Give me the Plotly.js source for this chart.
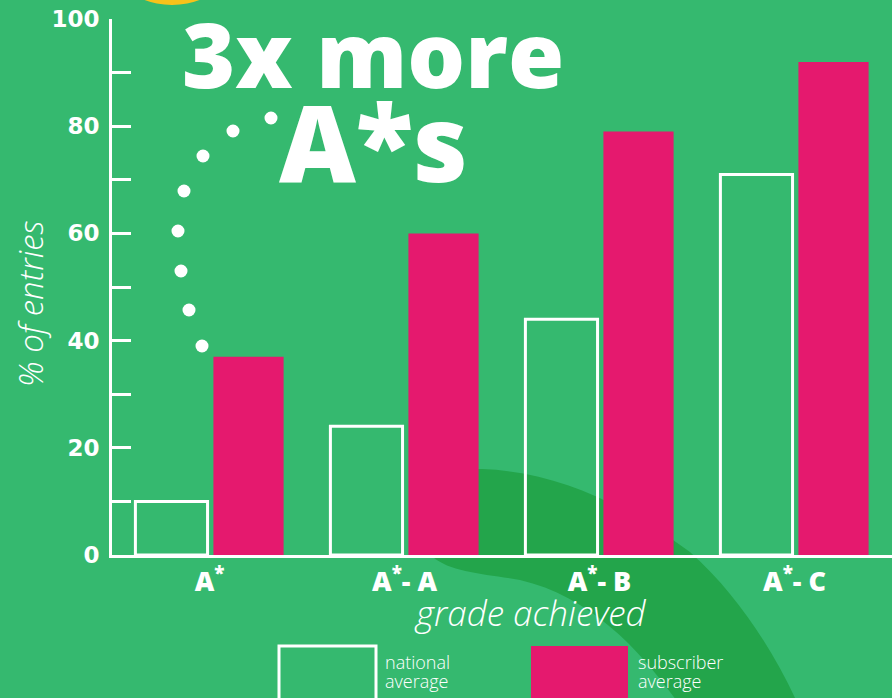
<!DOCTYPE html>
<html>
<head>
<meta charset="utf-8">
<script src="https://cdn.plot.ly/plotly-3.0.1.min.js"></script>
<style>html,body{margin:0;padding:0;background:#35b96f;}#chart{width:892px;height:698px;}</style>
</head>
<body>
<div id="chart"></div>
<script>
// ---- data ----
const categories = ["A<sup>*</sup>", "A<sup>*</sup>- A", "A<sup>*</sup>- B", "A<sup>*</sup>- C"];
const nationalAverage = [10, 24, 44, 71];
const subscriberAverage = [37, 60, 79, 92];
const yTickValues = [0, 20, 40, 60, 80, 100];
const seriesNames = ["national average", "subscriber average"];

// ---- helpers for decoration (pixel -> paper) ----
const L = 112, T = 19, W = 780, H = 536;
const PX = x => (x - L) / W;
const PY = y => (T + H - y) / H;
function pathFromPx(cmds) {
  return cmds.map(c => {
    if (c[0] === 'Z') return 'Z';
    let s = c[0];
    for (let i = 1; i < c.length; i += 2) s += ' ' + PX(c[i]).toFixed(4) + ',' + PY(c[i + 1]).toFixed(4);
    return s;
  }).join(' ');
}

const GREEN = '#35b96f', DARK = '#23a54b', PINK = '#e5196e', YEL = '#f7c21a';
const FONT = 'Open Sans, Lato, sans-serif';

const shapes = [];
// dark green band
shapes.push({
  type: 'path', xref: 'paper', yref: 'paper', layer: 'below', line: {width: 0}, fillcolor: DARK,
  path: pathFromPx([
    ['M', 412, 500], ['C', 420, 475, 450, 468, 482, 469],
    ['C', 560, 472, 625, 505, 690, 552],
    ['C', 735, 592, 772, 648, 796, 700],
    ['L', 676, 700],
    ['C', 640, 650, 590, 596, 520, 580],
    ['C', 485, 574, 450, 572, 433, 557],
    ['C', 420, 545, 412, 530, 412, 500], ['Z']
  ])
});
// yellow circle at top
shapes.push({type: 'circle', xref: 'paper', yref: 'paper', layer: 'below', line: {width: 0}, fillcolor: YEL,
  x0: PX(172 - 78), x1: PX(172 + 78), y0: PY(-73 + 78), y1: PY(-73 - 78)});
// dotted arrow
const dots = [[271,118],[233,131],[203,156],[184,191],[178,231],[181,271],[189,310],[202,346]];
dots.forEach(d => shapes.push({type: 'circle', xref: 'paper', yref: 'paper', line: {width: 0}, fillcolor: 'white',
  x0: PX(d[0] - 6.5), x1: PX(d[0] + 6.5), y0: PY(d[1] + 6.5), y1: PY(d[1] - 6.5)}));
// legend boxes
shapes.push({type: 'rect', xref: 'paper', yref: 'paper', line: {width: 3, color: 'white'}, fillcolor: GREEN,
  x0: PX(279), x1: PX(376), y0: PY(710), y1: PY(646)});
shapes.push({type: 'rect', xref: 'paper', yref: 'paper', line: {width: 0}, fillcolor: PINK,
  x0: PX(531), x1: PX(628), y0: PY(710), y1: PY(646)});

const lgFont = {family: FONT, size: 18, weight: 300, color: 'white'};
const annotations = [
  {text: '3x more', xref: 'paper', yref: 'paper', x: PX(180), y: PY(53), xanchor: 'left', yanchor: 'middle', showarrow: false,
   font: {family: FONT, size: 91, weight: 800, color: 'white'}},
  {text: 'A*s', xref: 'paper', yref: 'paper', x: PX(277), y: PY(141), xanchor: 'left', yanchor: 'middle', showarrow: false,
   font: {family: FONT, size: 106, weight: 800, color: 'white'}},
  {text: '% of entries', xref: 'paper', yref: 'paper', x: PX(30), y: PY(304), textangle: -90, xanchor: 'center', yanchor: 'middle', showarrow: false,
   font: {family: FONT, size: 33, weight: 300, style: 'italic', color: 'white'}},
  {text: 'grade achieved', xref: 'paper', yref: 'paper', x: PX(530), y: PY(612), xanchor: 'center', yanchor: 'middle', showarrow: false,
   font: {family: FONT, size: 35, weight: 300, style: 'italic', color: 'white'}},
  {text: 'national', xref: 'paper', yref: 'paper', x: PX(383), y: PY(662), xanchor: 'left', yanchor: 'middle', showarrow: false, font: lgFont},
  {text: 'average', xref: 'paper', yref: 'paper', x: PX(383), y: PY(681), xanchor: 'left', yanchor: 'middle', showarrow: false, font: lgFont},
  {text: 'subscriber', xref: 'paper', yref: 'paper', x: PX(636), y: PY(662), xanchor: 'left', yanchor: 'middle', showarrow: false, font: lgFont},
  {text: 'average', xref: 'paper', yref: 'paper', x: PX(636), y: PY(681), xanchor: 'left', yanchor: 'middle', showarrow: false, font: lgFont}
];

const traces = [
  {type: 'bar', name: seriesNames[0], x: categories, y: nationalAverage, width: 0.37, offset: -0.38,
   marker: {color: 'rgba(0,0,0,0)', line: {color: 'white', width: 3}}},
  {type: 'bar', name: seriesNames[1], x: categories, y: subscriberAverage, width: 0.36, offset: 0.02,
   marker: {color: PINK, line: {width: 0}}}
];

const layout = {
  width: 892, height: 698,
  margin: {l: L, r: 0, t: T, b: 698 - T - H, pad: 0},
  paper_bgcolor: GREEN, plot_bgcolor: 'rgba(0,0,0,0)',
  showlegend: false, barmode: 'overlay',
  xaxis: {type: 'category', range: [-0.5, 3.5], showgrid: false, zeroline: false, showline: true, linecolor: 'white', linewidth: 3,
    ticks: '', ticklabelstandoff: 1,
    tickfont: {family: FONT, size: 27, weight: 800, color: 'white'}},
  yaxis: {range: [0, 100], tickvals: yTickValues, showgrid: false, zeroline: false, showline: true, linecolor: 'white', linewidth: 3,
    ticks: 'inside', ticklen: 19, tickwidth: 3, tickcolor: 'white', ticklabelstandoff: 5,
    minor: {ticks: 'inside', ticklen: 19, tickwidth: 3, tickcolor: 'white', dtick: 10, showgrid: false},
    tickfont: {family: 'DejaVu Sans, sans-serif', size: 23, weight: 700, color: 'white'}},
  shapes: shapes, annotations: annotations
};

Plotly.newPlot('chart', traces, layout, {staticPlot: true, displayModeBar: false});
</script>
</body>
</html>
